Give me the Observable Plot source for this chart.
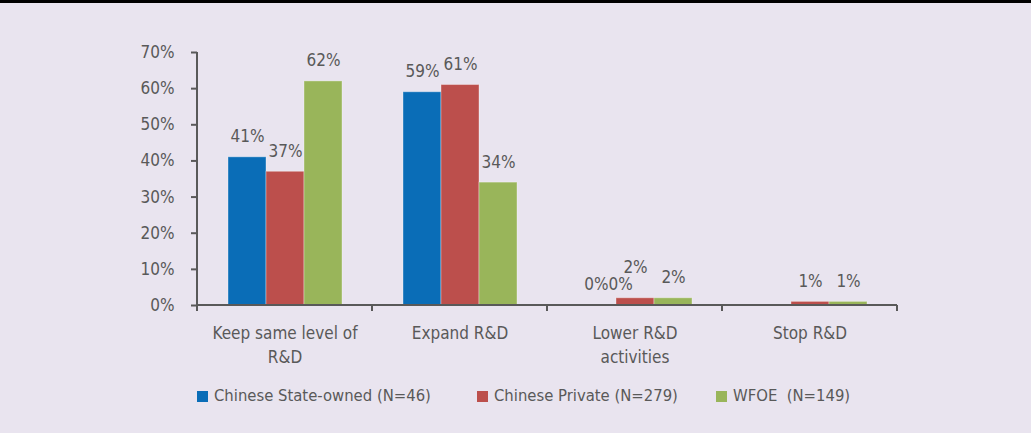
<!DOCTYPE html>
<html><head><meta charset="utf-8">
<script src="https://cdn.jsdelivr.net/npm/d3@7"></script>
<script src="https://cdn.jsdelivr.net/npm/@observablehq/plot@0.6"></script>
<style>
html,body{margin:0;padding:0;background:#e9e4ef;width:1031px;height:433px;overflow:hidden;font-family:"DejaVu Sans",sans-serif;font-stretch:condensed;color:#595959;}
#topbar{position:absolute;top:0;left:0;width:1031px;height:3px;background:#000;}
#chart{position:absolute;top:3px;left:0;}
#legend{position:absolute;top:385px;left:197px;display:flex;font-size:16.5px;white-space:pre;line-height:22px;font-stretch:condensed;}
.item{display:flex;align-items:center;}
.sw{width:11px;height:11px;margin-right:6px}
svg text{font-stretch:condensed;}
</style></head><body>
<div id="topbar"></div><div id="chart"></div><div id="legend"></div>
<script>
const categories = ["Keep same level of R&D", "Expand R&D", "Lower R&D activities", "Stop R&D"];
const categoryLabels = ["Keep same level of\nR&D", "Expand R&D", "Lower R&D\nactivities", "Stop R&D"];
const seriesNames = ["Chinese State-owned (N=46)", "Chinese Private (N=279)", "WFOE  (N=149)"];
const stateOwned = [0.41, 0.59, 0, 0];
const privateCo = [0.37, 0.61, 0.02, 0.01];
const wfoe = [0.62, 0.34, 0.02, 0.01];
const stateLabels = ["41%", "59%", "0%0%", ""];
const privateLabels = ["37%", "61%", "2%", "1%"];
const wfoeLabels = ["62%", "34%", "2%", "1%"];
const yTicks = [0, 0.1, 0.2, 0.3, 0.4, 0.5, 0.6, 0.7];
const colors = ["#0a6db7", "#bc4f4c", "#99b55a"];

const seriesValues = [stateOwned, privateCo, wfoe];
const seriesLabels = [stateLabels, privateLabels, wfoeLabels];
const rows = [];
categories.forEach((c, i) => seriesNames.forEach((s, j) => rows.push({
  category: c, series: s, value: seriesValues[j][i], label: seriesLabels[j][i]
})));

const FONT = '"DejaVu Sans",sans-serif';
// small label tweaks for the crowded "Lower R&D" group
const isShifted = d => d.category === categories[2] && d.series === seriesNames[0];
const isRaised = d => d.category === categories[2] && d.series === seriesNames[1];

const plot = Plot.plot({
  width: 1031, height: 375,
  marginLeft: 195, marginRight: 133, marginTop: 49, marginBottom: 73,
  style: {background: "transparent", fontFamily: FONT, fontSize: "17px", color: "#595959", overflow: "visible"},
  fx: {domain: categories, padding: 0, label: null, axis: null},
  x: {domain: seriesNames, paddingInner: 0, paddingOuter: 0.753, axis: null},
  y: {domain: [0, 0.7], label: null, axis: null},
  color: {domain: seriesNames, range: colors},
  marks: [
    Plot.axisY({ticks: yTicks, tickFormat: d => Math.round(d * 100) + "%", tickSize: 6, tickPadding: 17, strokeWidth: 2, stroke: "#595959", fill: "#595959", label: null}),
    Plot.axisFx({anchor: "bottom", tickSize: 0, tickPadding: 17, tickFormat: c => categoryLabels[categories.indexOf(c)], lineHeight: 1.4, fill: "#595959", label: null}),
    Plot.barY(rows, {fx: "category", x: "series", y: "value", fill: "series", stroke: "#ffffff", strokeOpacity: 0.35, strokeWidth: 1}),
    Plot.text(rows.filter(d => d.label !== "" && !isShifted(d) && !isRaised(d)), {fx: "category", x: "series", y: "value", text: "label", lineAnchor: "bottom", dy: -15, fill: "#595959"}),
    Plot.text(rows.filter(isShifted), {fx: "category", x: "series", y: "value", text: "label", lineAnchor: "bottom", dy: -16, dx: 11, fill: "#595959"}),
    Plot.text(rows.filter(isRaised), {fx: "category", x: "series", y: "value", text: "label", lineAnchor: "bottom", dy: -25, fill: "#595959"})
  ]
});
document.getElementById("chart").appendChild(plot);

// axis lines and category boundary ticks, placed with Plot's own scales
const svg = d3.select(plot.tagName.toLowerCase() === "svg" ? plot : plot.querySelector("svg"));
const fxS = plot.scale("fx"), yS = plot.scale("y");
const left = fxS.apply(categories[0]);
const right = fxS.apply(categories[categories.length - 1]) + fxS.bandwidth;
const y0 = yS.apply(0), yTop = yS.apply(0.7);
const g = svg.append("g").attr("stroke", "#595959").attr("stroke-width", 2).attr("fill", "none");
g.append("line").attr("x1", left).attr("x2", left).attr("y1", yTop).attr("y2", y0);
g.append("line").attr("x1", left).attr("x2", right).attr("y1", y0).attr("y2", y0);
categories.map(c => fxS.apply(c)).concat([right]).forEach(x =>
  g.append("line").attr("x1", x).attr("x2", x).attr("y1", y0).attr("y2", y0 + 6));

// legend
const legendWidths = ["280px", "239px", "auto"];
const legend = d3.select("#legend");
seriesNames.forEach((s, i) => {
  const it = legend.append("div").attr("class", "item").style("width", legendWidths[i]);
  it.append("div").attr("class", "sw").style("background", colors[i]);
  it.append("span").text(s);
});
</script>
</body></html>
